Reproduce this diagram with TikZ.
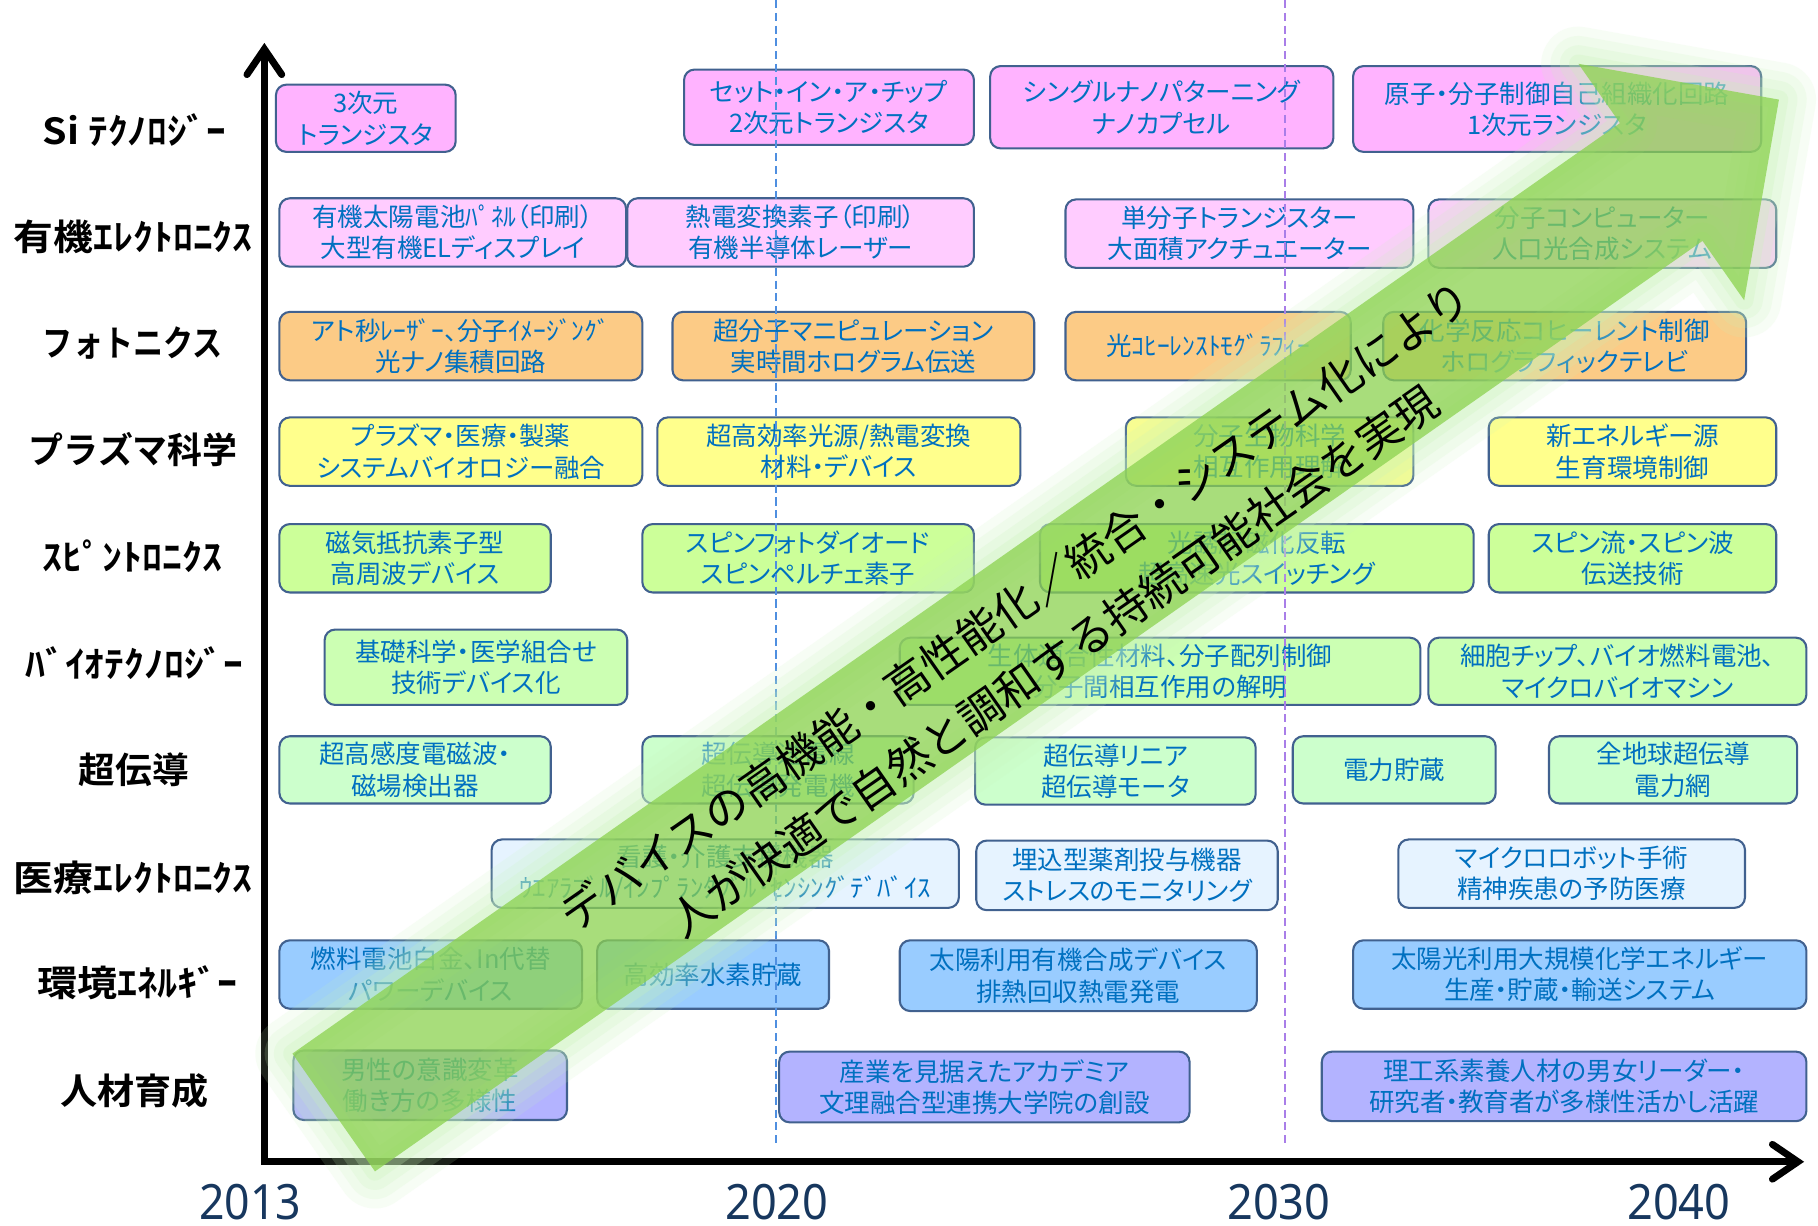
\documentclass[tikz,border=0pt]{standalone}
\usepackage{fontspec}
\usepackage{graphicx}
\usetikzlibrary{arrows.meta}
\newfontfamily\jp[RawFeature={+palt}]{Noto Sans CJK JP}
\newfontfamily\jpfull{Noto Sans CJK JP}
\newfontfamily\jpb{Noto Sans CJK JP Bold}
\newfontfamily\numf{Noto Sans}
\definecolor{cA}{HTML}{FFB3FF}
\definecolor{cB}{HTML}{FFCCFF}
\definecolor{cC}{HTML}{FCCB86}
\definecolor{cD}{HTML}{FFFF8C}
\definecolor{cE}{HTML}{CCFF99}
\definecolor{cF}{HTML}{CCFFB3}
\definecolor{cG}{HTML}{CCFFCC}
\definecolor{cH}{HTML}{E6F3FF}
\definecolor{cI}{HTML}{99CCFF}
\definecolor{cJ}{HTML}{B3B3FF}
\definecolor{boxline}{HTML}{41618F}
\definecolor{txtblue}{HTML}{0070C0}
\definecolor{yearc}{HTML}{17375E}
\definecolor{dashA}{HTML}{4F8FE0}
\definecolor{dashB}{HTML}{A97EE8}
\definecolor{arrowc}{HTML}{8CD24F}
\definecolor{glowc}{HTML}{C8F5B9}
\tikzset{
  rbx/.style={draw=boxline, line width=1.8pt, rounded corners=9pt, text=txtblue,
    align=center, inner sep=0pt, font=\jp\fontsize{22}{27}\selectfont},
  lbl/.style={inner sep=0pt, anchor=center, font=\jpb\fontsize{31}{31}\selectfont},
  yr/.style={inner sep=0pt, anchor=center, text=yearc, font=\numf\fontsize{42}{42}\selectfont},
  axisline/.style={line width=6pt, line join=miter},
  yeardash/.style={line width=1.5pt, dash pattern=on 7pt off 4pt},
  slogan/.style={inner sep=0pt, align=center, font=\jpfull\fontsize{38}{58}\selectfont, text=black}
}
\newcommand{\rbox}[7]{\node[rbx, fill=#6, minimum width={(#4)-(#2)}, minimum height={(#5)-(#3)}] (#1) at ({((#2)+(#4))/2},{((#3)+(#5))/2}) {#7};}
\newcommand{\lab}[5]{\node[lbl] (#1) at (#2,#3) {\resizebox{#4pt}{\height}{#5}};}
\begin{document}
\begin{tikzpicture}[x=1pt,y=-1pt]
\useasboundingbox (0,0) rectangle (1568,1057);
\fill[white] (0,0) rectangle (1568,1057);

% axes
\coordinate (origin) at (228,1002);
\coordinate (ytop) at (228,37);
\coordinate (xend) at (1556,1002);
\draw[axisline, {Straight Barb[length=22pt,width=30pt,line cap=round]}-{Straight Barb[length=22pt,width=30pt,line cap=round]}] (ytop) -- (origin) -- (xend);

% row labels
\lab{l1}{116}{112}{158}{Si ﾃｸﾉﾛｼﾞｰ}
\lab{l2}{115}{204}{206}{有機ｴﾚｸﾄﾛﾆｸｽ}
\lab{l3}{114.5}{296}{155}{フォトニクス}
\lab{l4}{115}{388}{180}{プラズマ科学}
\lab{l5}{114.5}{480}{155}{ｽﾋﾟﾝﾄﾛﾆｸｽ}
\lab{l6}{116}{572}{188}{ﾊﾞｲｵﾃｸﾉﾛｼﾞｰ}
\lab{l7}{115.5}{664}{95}{超伝導}
\lab{l8}{115}{757}{206}{医療ｴﾚｸﾄﾛﾆｸｽ}
\lab{l9}{118.5}{848}{173}{環境ｴﾈﾙｷﾞｰ}
\lab{l10}{116}{941}{128}{人材育成}

% years
\node[yr] (y2013) at (216,1037) {\resizebox{88pt}{\height}{2013}};
\node[yr] (y2020) at (670,1037) {\resizebox{89pt}{\height}{2020}};
\node[yr] (y2030) at (1103,1037) {\resizebox{89pt}{\height}{2030}};
\node[yr] (y2040) at (1448,1037) {\resizebox{89pt}{\height}{2040}};

% boxes
\rbox{a1}{238}{73}{393}{131}{cA}{3次元\\トランジスタ}
\rbox{a2}{590}{60}{840}{125}{cA}{セット・イン・ア・チップ\\2次元トランジスタ}
\rbox{a3}{854}{57}{1150}{128}{cA}{シングルナノパターニング\\ナノカプセル}
\rbox{a4}{1167}{57}{1519}{131}{cA}{原子・分子制御自己組織化回路\\1次元ランジスタ}

\rbox{b1}{241}{171}{540}{230}{cB}{有機太陽電池ﾊﾟﾈﾙ（印刷）\\大型有機ELディスプレイ}
\rbox{b2}{541}{171}{840}{230}{cB}{熱電変換素子（印刷）\\有機半導体レーザー}
\rbox{b3}{919}{172}{1219}{231}{cB}{単分子トランジスター\\大面積アクチュエーター}
\rbox{b4}{1232}{172}{1532}{231}{cB}{分子コンピューター\\人口光合成システム}

\rbox{c1}{241}{269}{554}{328}{cC}{アト秒ﾚｰｻﾞｰ、分子ｲﾒｰｼﾞﾝｸﾞ\\光ナノ集積回路}
\rbox{c2}{580}{269}{892}{328}{cC}{超分子マニピュレーション\\実時間ホログラム伝送}
\rbox{c3}{919}{269}{1165}{328}{cC}{光ｺﾋｰﾚﾝｽﾄﾓｸﾞﾗﾌｨｰ}
\rbox{c4}{1193}{269}{1506}{328}{cC}{化学反応コヒーレント制御\\ホログラフィックテレビ}

\rbox{d1}{241}{360}{554}{419}{cD}{プラズマ・医療・製薬\\システムバイオロジー融合}
\rbox{d2}{567}{360}{880}{419}{cD}{超高効率光源/熱電変換\\材料・デバイス}
\rbox{d3}{971}{360}{1219}{419}{cD}{分子生物科学\\相互作用理解}
\rbox{d4}{1284}{360}{1532}{419}{cD}{新エネルギー源\\生育環境制御}

\rbox{e1}{241}{452}{475}{511}{cE}{磁気抵抗素子型\\高周波デバイス}
\rbox{e2}{554}{452}{840}{511}{cE}{スピンフォトダイオード\\スピンペルチェ素子}
\rbox{e3}{897}{452}{1271}{511}{cE}{光誘起磁化反転\\超高速光スイッチング}
\rbox{e4}{1284}{452}{1532}{511}{cE}{スピン流・スピン波\\伝送技術}

\rbox{f1}{280}{543}{541}{608}{cF}{基礎科学・医学組合せ\\技術デバイス化}
\rbox{f2}{776}{550}{1225}{608}{cF}{生体適合性材料、分子配列制御\\分子間相互作用の解明}
\rbox{f3}{1232}{550}{1558}{608}{cF}{細胞チップ、バイオ燃料電池、\\マイクロバイオマシン}

\rbox{g1}{241}{635}{475}{693}{cG}{超高感度電磁波・\\磁場検出器}
\rbox{g2}{554}{635}{788}{693}{cG}{超伝導送電線\\超伝導発電機}
\rbox{g3}{841}{636}{1083}{694}{cG}{超伝導リニア\\超伝導モータ}
\rbox{g4}{1115}{635}{1290}{693}{cG}{電力貯蔵}
\rbox{g5}{1336}{635}{1550}{693}{cG}{全地球超伝導\\電力網}

\rbox{h1}{424}{724}{827}{783}{cH}{看護・介護支援機器\\\resizebox{355pt}{\height}{ｳｴｱﾗﾌﾞﾙ/ｲﾝﾌﾟﾗﾝﾀﾌﾞﾙ･ｾﾝｼﾝｸﾞﾃﾞﾊﾞｲｽ}}
\rbox{h2}{842}{725}{1102}{785}{cH}{埋込型薬剤投与機器\\ストレスのモニタリング}
\rbox{h3}{1206}{724}{1505}{783}{cH}{マイクロロボット手術\\精神疾患の予防医療}

\rbox{i1}{241}{811}{502}{870}{cI}{燃料電池白金、In代替\\パワーデバイス}
\rbox{i2}{515}{811}{715}{870}{cI}{高効率水素貯蔵}
\rbox{i3}{776}{811}{1084}{872}{cI}{太陽利用有機合成デバイス\\排熱回収熱電発電}
\rbox{i4}{1167}{811}{1558}{870}{cI}{太陽光利用大規模化学エネルギー\\生産・貯蔵・輸送システム}

\rbox{j1}{253}{906}{489}{966}{cJ}{男性の意識変革\\働き方の多様性}
\rbox{j2}{672}{907}{1026}{968}{cJ}{産業を見据えたアカデミア\\文理融合型連携大学院の創設}
\rbox{j3}{1140}{907}{1558}{967}{cJ}{理工系素養人材の男女リーダー・\\研究者・教育者が多様性活かし活躍}

% year guide lines
\coordinate (d20t) at (669,0);
\coordinate (d20b) at (669,989);
\coordinate (d30t) at (1108,0);
\coordinate (d30b) at (1108,989);
\draw[yeardash, dashA] (d20t) -- (d20b);
\draw[yeardash, dashB] (d30t) -- (d30b);

% big arrow
\coordinate (AT1) at (252.2,908.7);
\coordinate (AS1) at (1397.2,106.2);
\coordinate (AH1) at (1361.3,55.0);
\coordinate (ATIP) at (1534.3,85.9);
\coordinate (AH2) at (1504.3,259.0);
\coordinate (AS2) at (1468.4,207.8);
\coordinate (AT2) at (323.4,1010.3);
\foreach \gw/\go in {64/0.14,48/0.16,32/0.2,16/0.25}{
  \draw[draw=glowc, line width=\gw pt, opacity=\go, line join=round]
    (AT1) -- (AS1) -- (AH1) -- (ATIP) -- (AH2) -- (AS2) -- (AT2) -- cycle;
}
\fill[arrowc, opacity=0.75] (AT1) -- (AS1) -- (AH1) -- (ATIP) -- (AH2) -- (AS2) -- (AT2) -- cycle;

\node[slogan, rotate=34.9] (slogantext) at (892,546) {デバイスの高機能・高性能化／統合・システム化により\\人が快適で自然と調和する持続可能社会を実現};
\end{tikzpicture}
\end{document}
